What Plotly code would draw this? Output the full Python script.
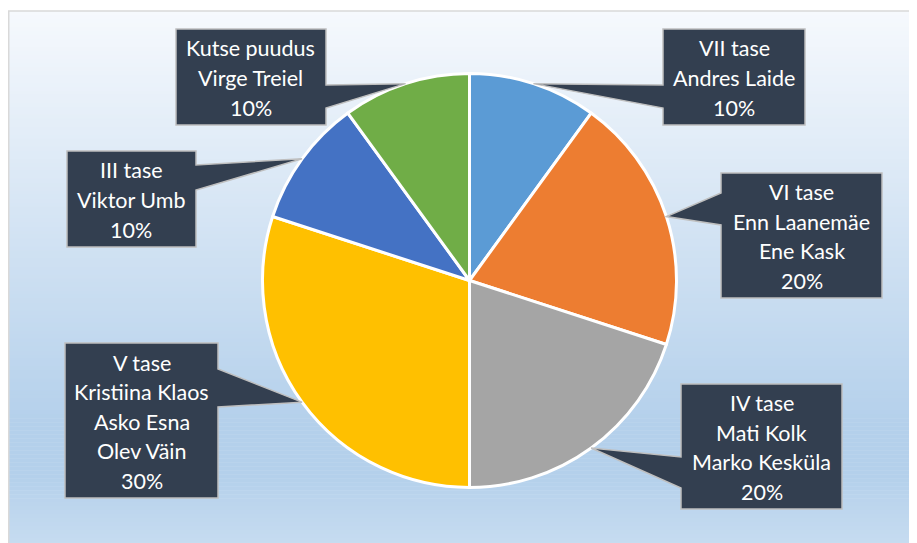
import math
import plotly.graph_objects as go

# ---------------- data ----------------
levels = ["VII tase", "VI tase", "IV tase", "V tase", "III tase", "Kutse puudus"]
people = [
    ["Andres Laide"],
    ["Enn Laanemäe", "Ene Kask"],
    ["Mati Kolk", "Marko Kesküla"],
    ["Kristiina Klaos", "Asko Esna", "Olev Väin"],
    ["Viktor Umb"],
    ["Virge Treiel"],
]
counts = [1, 2, 2, 3, 1, 1]
colors = ["#5B9BD5", "#ED7D31", "#A5A5A5", "#FFC000", "#4472C4", "#70AD47"]

# ---------------- layout geometry (screen pixels) ----------------
W, H = 917, 543
OFF = 8  # page body margin: figure is drawn starting at (8, 8) on screen
CX, CY, R = 469.5, 280.5, 207

# callout boxes: (left, top, right, bottom), side of pointer, pointer base (y1, y2)
boxes = [
    ((663, 29, 805, 125), "left", (85, 108)),
    ((721, 173, 882, 298), "left", (193, 225)),
    ((681, 384, 842, 509), "left", (457, 488)),
    ((65, 343, 218, 498), "right", (369, 407)),
    ((67, 151, 196, 247), "right", (165, 190)),
    ((176, 29, 326, 125), "right", (85, 108)),
]


def px(x):
    return (x - OFF) / W


def py(y):
    return 1 - (y - OFF) / H


fig = go.Figure()
fig.add_trace(go.Pie(
    labels=levels,
    values=counts,
    sort=False,
    direction="clockwise",
    rotation=0,
    marker=dict(colors=colors, line=dict(color="white", width=3)),
    textinfo="none",
    hoverinfo="label+percent",
    showlegend=False,
    domain=dict(x=[px(CX - R), px(CX + R)], y=[py(CY + R), py(CY - R)]),
))

shapes = []

# gradient background inside the frame
FL, FT, FR, FB = 8, 11, 960, 570
stops = [(0.0, (246, 249, 253)), (0.74, (180, 208, 235)), (0.83, (180, 208, 235)), (1.0, (205, 224, 242))]


def grad(t):
    for (t0, c0), (t1, c1) in zip(stops[:-1], stops[1:]):
        if t <= t1:
            f = (t - t0) / (t1 - t0) if t1 > t0 else 0
            return "rgb(%d,%d,%d)" % tuple(round(a + (b - a) * f) for a, b in zip(c0, c1))
    return "rgb(%d,%d,%d)" % stops[-1][1]


nb = 140
for i in range(nb):
    y0 = FT + (FB - FT) * i / nb
    y1 = FT + (FB - FT) * (i + 1) / nb + 0.6
    shapes.append(dict(type="rect", xref="paper", yref="paper", layer="below",
                       x0=px(FL), x1=px(FR), y0=py(y0), y1=py(y1),
                       fillcolor=grad((i + 0.5) / nb), line=dict(width=0)))
shapes.append(dict(type="rect", xref="paper", yref="paper", layer="below",
                   x0=px(FL + 0.75), x1=px(FR), y0=py(FT), y1=py(FB),
                   fillcolor="rgba(0,0,0,0)", line=dict(color="#D9D9D9", width=1.5)))

# callouts
total = sum(counts)
cum = 0
annotations = []
for i, (lvl, names, c) in enumerate(zip(levels, people, counts)):
    mid = (cum + c / 2) / total * 2 * math.pi
    cum += c
    tx = CX + R * math.sin(mid)
    ty = CY - R * math.cos(mid)
    (l, t, r, b), side, (b1, b2) = boxes[i]
    if side == "left":
        pts = [(l, t), (r, t), (r, b), (l, b), (l, b2), (tx, ty), (l, b1)]
    else:
        pts = [(l, t), (r, t), (r, b1), (tx, ty), (r, b2), (r, b), (l, b)]
    path = "M " + " L ".join("%.5f,%.5f" % (px(x), py(y)) for x, y in pts) + " Z"
    shapes.append(dict(type="path", xref="paper", yref="paper", path=path,
                       fillcolor="#333F50", line=dict(color="#BFBFBF", width=1.5), layer="above"))
    lines = [lvl] + names + ["%d%%" % round(c / total * 100)]
    n = len(lines)
    cyb = (t + b) / 2 + 1
    spacing = 29.5
    for j, txt in enumerate(lines):
        yy = cyb + (j - (n - 1) / 2) * spacing
        annotations.append(dict(x=px((l + r) / 2), y=py(yy), xref="paper", yref="paper",
                                text=txt, showarrow=False, xanchor="center", yanchor="middle",
                                font=dict(family="Lato, 'Noto Sans', sans-serif", size=21.5, color="white")))

fig.update_layout(
    width=W, height=H,
    margin=dict(l=0, r=0, t=0, b=0),
    paper_bgcolor="white",
    plot_bgcolor="white",
    shapes=shapes,
    annotations=annotations,
)

fig.write_html("out.html")
